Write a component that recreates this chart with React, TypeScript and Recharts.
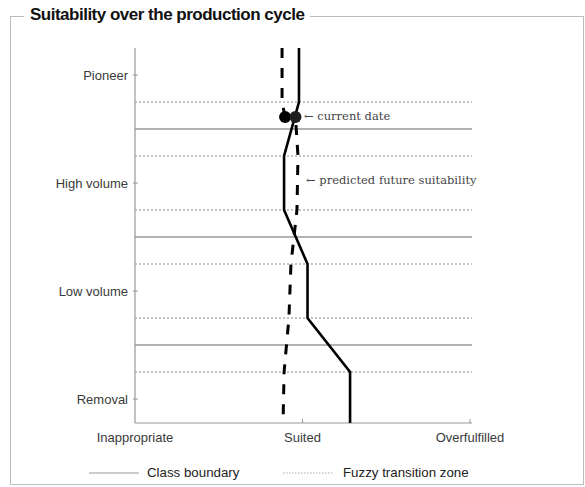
import React from 'react';
import {
  ScatterChart,
  Scatter,
  XAxis,
  YAxis,
  ReferenceLine,
  ReferenceDot,
} from 'recharts';

// ---- data ----
const stageLevels = [1, 2, 3, 4];
const stageLabels = ['Pioneer', 'High volume', 'Low volume', 'Removal'];
const suitTicks = [0, 1, 2];
const suitLabels = ['Inappropriate', 'Suited', 'Overfulfilled'];

const boundaryStages = [1.5, 2.5, 3.5];
const fuzzyStages = [1.25, 1.75, 2.25, 2.75, 3.25, 3.75];

const observedStage = [0.75, 1.25, 1.75, 2.25, 2.75, 3.25, 3.75, 4.222];
const observedSuit = [0.979, 0.979, 0.89, 0.89, 1.03, 1.03, 1.284, 1.284];

const pastForecastStage = [0.75, 1.25, 1.389];
const pastForecastSuit = [0.878, 0.878, 0.896];

const futureStage = [1.389, 1.75, 2.25, 2.75, 3.25, 3.75, 4.222];
const futureSuit = [0.958, 0.973, 0.967, 0.931, 0.919, 0.89, 0.884];

const currentDateStage = [1.389, 1.389];
const currentDateSuit = [0.896, 0.958];

const zip = (t: number[], s: number[]) => t.map((v, i) => ({ t: v, s: s[i] }));
const observed = zip(observedStage, observedSuit);
const pastForecast = zip(pastForecastStage, pastForecastSuit);
const future = zip(futureStage, futureSuit);
const currentDots = zip(currentDateStage, currentDateSuit);

const SANS = '"Liberation Sans", Arial, Helvetica, sans-serif';
const SERIF = '"DejaVu Serif", serif';

const XTick = (props: any) => {
  const { x, y, payload } = props;
  const idx = suitTicks.indexOf(payload.value);
  return (
    <g>
      {idx > 0 && <line x1={x} x2={x} y1={y} y2={y - 4} stroke="#999" strokeWidth={1} />}
      <text x={x} y={y + 19} textAnchor="middle" fontSize={13} fill="#3a3a3a" fontFamily={SANS}>
        {suitLabels[idx]}
      </text>
    </g>
  );
};

const YTick = (props: any) => {
  const { x, y, payload } = props;
  const idx = stageLevels.indexOf(payload.value);
  return (
    <g>
      <line x1={x - 2} x2={x + 3} y1={y} y2={y} stroke="#999" strokeWidth={1} />
      <text x={x - 7} y={y + 4.5} textAnchor="end" fontSize={13} fill="#3a3a3a" fontFamily={SANS}>
        {stageLabels[idx]}
      </text>
    </g>
  );
};

const NoShape = () => <g />;
const DotShape = (props: any) => (
  <circle cx={props.cx} cy={props.cy} r={6} fill={props.index === 1 ? '#1e1e1e' : '#000'} />
);

export default function App() {
  return (
    <div style={{ position: 'absolute', left: 0, top: 0, width: 585, height: 487, background: '#fff' }}>
      <div
        style={{
          position: 'absolute',
          left: 10,
          top: 16,
          width: 574,
          height: 469,
          border: '1px solid #bbb',
          boxSizing: 'border-box',
        }}
      />
      <div
        style={{
          position: 'absolute',
          left: 24,
          top: 5,
          padding: '0 6px',
          background: '#fff',
          fontFamily: SANS,
          fontWeight: 'bold',
          fontSize: 17,
          letterSpacing: -0.5,
          lineHeight: '20px',
          color: '#111',
          whiteSpace: 'nowrap',
        }}
      >
        Suitability over the production cycle
      </div>
      <div style={{ position: 'absolute', left: 0, top: 0 }}>
        <ScatterChart
          width={585}
          height={487}
          margin={{ top: 48, right: 113, left: 55, bottom: 34 }}
        >
          <XAxis
            type="number"
            dataKey="s"
            domain={[0, 2.012]}
            ticks={suitTicks}
            allowDataOverflow
            height={30}
            tickSize={0}
            tickMargin={0}
            tickLine={false}
            tick={<XTick />}
            axisLine={{ stroke: '#999', strokeWidth: 1.2 }}
          />
          <YAxis
            type="number"
            dataKey="t"
            domain={[0.75, 4.222]}
            reversed
            ticks={stageLevels}
            interval={0}
            allowDataOverflow
            width={80}
            tickSize={0}
            tickMargin={0}
            tickLine={false}
            tick={<YTick />}
            axisLine={{ stroke: '#999', strokeWidth: 1.2 }}
          />
          {fuzzyStages.map((v) => (
            <ReferenceLine key={'f' + v} y={v} stroke="#888" strokeWidth={1} strokeDasharray="2 2" />
          ))}
          {boundaryStages.map((v) => (
            <ReferenceLine key={'b' + v} y={v} stroke="#999" strokeWidth={1.4} />
          ))}
          <Scatter
            data={pastForecast}
            line={{ stroke: '#000', strokeWidth: 3, strokeDasharray: '10 10' }}
            shape={NoShape}
            isAnimationActive={false}
          />
          <Scatter
            data={future}
            line={{ stroke: '#000', strokeWidth: 3, strokeDasharray: '10 10', strokeDashoffset: -8 }}
            shape={NoShape}
            isAnimationActive={false}
          />
          <Scatter
            data={observed}
            line={{ stroke: '#000', strokeWidth: 2.6 }}
            shape={NoShape}
            isAnimationActive={false}
          />
          <Scatter data={currentDots} shape={DotShape} isAnimationActive={false} />
          <ReferenceDot
            x={1.003}
            y={1.38}
            r={1}
            fill="none"
            stroke="none"
            label={{ value: '\u2190 current date', position: 'right', offset: 0, fill: '#444', fontSize: 11.5, fontFamily: SERIF }}
          />
          <ReferenceDot
            x={1.015}
            y={1.972}
            r={1}
            fill="none"
            stroke="none"
            label={{ value: '\u2190 predicted future suitability', position: 'right', offset: 0, fill: '#444', fontSize: 11.5, fontFamily: SERIF }}
          />
        </ScatterChart>
      </div>
      <svg style={{ position: 'absolute', left: 0, top: 464 }} width={585} height={20}>
        <line x1={89} x2={139} y1={9} y2={9} stroke="#999" strokeWidth={1} />
        <line x1={283} x2={333} y1={9} y2={9} stroke="#aaa" strokeWidth={1} strokeDasharray="1.5 1.5" />
      </svg>
      <div
        style={{
          position: 'absolute',
          left: 147,
          top: 465,
          fontFamily: SANS,
          fontSize: 13.3,
          lineHeight: '16px',
          color: '#222',
          whiteSpace: 'nowrap',
        }}
      >
        Class boundary
      </div>
      <div
        style={{
          position: 'absolute',
          left: 343,
          top: 465,
          fontFamily: SANS,
          fontSize: 13.3,
          lineHeight: '16px',
          color: '#222',
          whiteSpace: 'nowrap',
        }}
      >
        Fuzzy transition zone
      </div>
    </div>
  );
}
